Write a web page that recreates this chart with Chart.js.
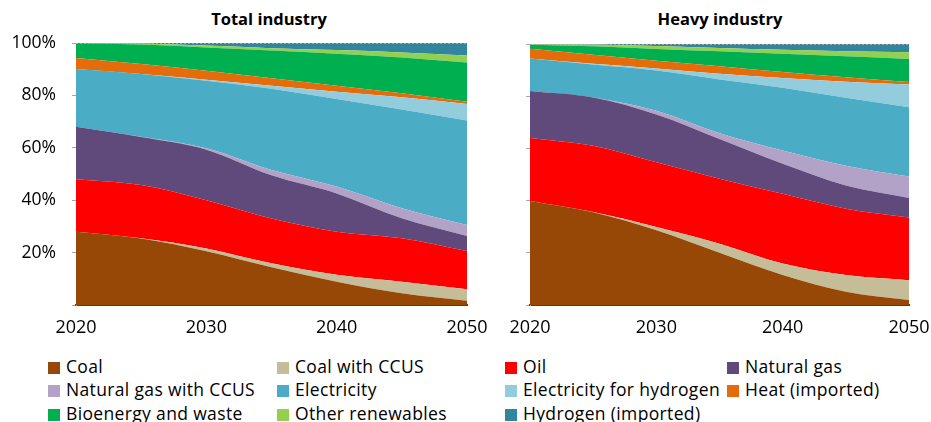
<!DOCTYPE html>
<html>
<head>
<meta charset="utf-8">
<script src="https://cdn.jsdelivr.net/npm/chart.js@4"></script>
<style>
  body { margin: 0; background: #fff; font-family: 'Open Sans', 'Liberation Sans', sans-serif; }
  #wrap { position: relative; width: 931px; height: 422px; overflow: hidden; }
  canvas { position: absolute; top: 0; }
  .title { position: absolute; top: 8px; font-weight: bold; font-size: 16.5px; line-height: 22px; color: #000; transform: translateX(-50%); white-space: nowrap; }
  .item { position: absolute; font-size: 17.5px; letter-spacing: 0.35px; color: #000; white-space: nowrap; line-height: 20px; }
  .item span { display: inline-block; width: 12px; height: 12px; margin-right: 6px; vertical-align: -1px; }
</style>
</head>
<body>
<div id="wrap">
  <div class="title" style="left:269px">Total industry</div>
  <div class="title" style="left:720px">Heavy industry</div>
  <canvas id="total" width="490" height="340" style="left:0"></canvas>
  <canvas id="heavy" width="451" height="340" style="left:480px"></canvas>
  <div id="legend"></div>
</div>
<script>
const years = ['2020', '2025', '2030', '2035', '2040', '2045', '2050'];
const seriesNames = ['Coal', 'Coal with CCUS', 'Oil', 'Natural gas', 'Natural gas with CCUS', 'Electricity',
  'Electricity for hydrogen', 'Heat (imported)', 'Bioenergy and waste', 'Other renewables', 'Hydrogen (imported)'];
const yTicks = [0, 20, 40, 60, 80, 100];

// shares in %, Total industry
const totalCoal     = [28.0, 25.4, 20.5, 14.4, 8.9, 4.5, 1.6];
const totalCoalCcus = [0.0, 0.1, 1.1, 1.5, 2.6, 4.4, 4.4];
const totalOil      = [20.0, 20.3, 18.4, 17.1, 16.5, 16.6, 14.6];
const totalGas      = [20.0, 18.3, 19.3, 16.5, 14.6, 7.6, 5.7];
const totalGasCcus  = [0.0, 0.1, 0.5, 2.0, 2.6, 3.8, 4.2];
const totalElec     = [22.1, 24.0, 25.8, 31.0, 33.4, 37.7, 39.9];
const totalElecH2   = [0.0, 0.0, 0.4, 1.2, 2.8, 4.7, 6.3];
const totalHeat     = [4.2, 3.8, 3.4, 2.8, 2.3, 1.5, 0.9];
const totalBio      = [5.7, 7.4, 8.9, 10.6, 12.2, 13.7, 15.0];
const totalOtherRen = [0.0, 0.4, 0.7, 0.9, 1.4, 1.9, 2.6];
const totalH2       = [0.0, 0.2, 1.0, 2.0, 2.7, 3.6, 4.8];

// shares in %, Heavy industry
const heavyCoal     = [39.8, 35.5, 28.6, 20.0, 11.5, 5.1, 1.9];
const heavyCoalCcus = [0.0, 0.1, 1.3, 3.5, 4.4, 6.4, 7.6];
const heavyOil      = [24.2, 25.4, 24.8, 24.9, 26.7, 25.4, 24.0];
const heavyGas      = [18.0, 18.5, 18.3, 15.2, 11.5, 8.9, 7.5];
const heavyGasCcus  = [0.0, 0.0, 1.4, 2.2, 5.1, 7.6, 8.2];
const heavyElec     = [12.4, 12.6, 15.4, 20.6, 24.0, 26.0, 26.6];
const heavyElecH2   = [0.0, 0.3, 0.8, 2.2, 3.8, 6.1, 8.7];
const heavyHeat     = [3.8, 3.5, 3.0, 2.9, 2.3, 1.8, 0.9];
const heavyBio      = [1.5, 3.2, 4.5, 5.7, 7.0, 8.0, 8.9];
const heavyOtherRen = [0.2, 0.7, 1.1, 1.3, 1.5, 1.9, 2.5];
const heavyH2       = [0.1, 0.2, 0.8, 1.5, 2.2, 2.8, 3.2];

const colors = ['#974706', '#C4BD97', '#FF0000', '#604A7B', '#B3A2C7', '#4BACC6',
  '#93CDDD', '#E46C0A', '#00B050', '#92D050', '#31859C'];

const fontFamily = "'Open Sans', 'Liberation Sans', sans-serif";

function buildChart(id, series, yWidth, showLabels, padTop, padRight) {
  const datasets = series.map((data, i) => ({
    label: seriesNames[i],
    data,
    backgroundColor: colors[i],
    borderColor: colors[i],
    borderWidth: 0,
    pointRadius: 0,
    fill: i === 0 ? 'origin' : '-1',
    cubicInterpolationMode: 'monotone',
  }));
  return new Chart(document.getElementById(id), {
    type: 'line',
    data: { labels: years, datasets },
    options: {
      responsive: false,
      animation: false,
      layout: { padding: { top: padTop, right: padRight, left: 0, bottom: 0 } },
      plugins: { legend: { display: false }, tooltip: { enabled: false } },
      scales: {
        x: {
          grid: { display: false, drawTicks: false },
          border: { display: true, color: '#404040', width: 2 },
          ticks: {
            autoSkip: false,
            maxRotation: 0,
            padding: 12,
            color: '#000',
            font: { family: fontFamily, size: 18 },
            callback: (v, i) => (Number(years[i]) % 10 === 0 ? years[i] : ''),
          },
          afterFit: (scale) => {
            scale.height = 35;
            scale.paddingLeft = 0;
            scale.paddingRight = 0;
          },
        },
        y: {
          stacked: true,
          min: 0,
          max: 100,
          afterBuildTicks: (scale) => { scale.ticks = yTicks.map((v) => ({ value: v })); },
          grid: {
            drawOnChartArea: false,
            tickColor: '#A6A6A6',
            tickLength: 4,
          },
          border: { display: true, color: '#A6A6A6', width: 1 },
          ticks: {
            color: '#000',
            padding: 16,
            font: { family: fontFamily, size: 17.5 },
            callback: (v) => (showLabels && v !== 0 ? v + '%' : ''),
          },
          afterFit: (scale) => {
            scale.width = yWidth;
            scale.paddingTop = 0;
            scale.paddingBottom = 0;
          },
        },
      },
    },
    plugins: [{
      id: 'dottedTop',
      afterDatasetsDraw(chart) {
        const { ctx, chartArea } = chart;
        ctx.save();
        ctx.strokeStyle = '#A6A6A6';
        ctx.lineWidth = 1;
        ctx.setLineDash([2, 2]);
        ctx.beginPath();
        ctx.moveTo(chartArea.left, chartArea.top + 0.5);
        ctx.lineTo(chartArea.right, chartArea.top + 0.5);
        ctx.stroke();
        ctx.restore();
      },
    }],
  });
}

buildChart('total', [totalCoal, totalCoalCcus, totalOil, totalGas, totalGasCcus, totalElec,
  totalElecH2, totalHeat, totalBio, totalOtherRen, totalH2], 76, true, 43, 23);
buildChart('heavy', [heavyCoal, heavyCoalCcus, heavyOil, heavyGas, heavyGasCcus, heavyElec,
  heavyElecH2, heavyHeat, heavyBio, heavyOtherRen, heavyH2], 50, false, 44, 22);

// legend: 4 columns, 3 rows
const legendX = [48, 277, 505, 727];
const legendY = [355.5, 379, 402.5];
const legend = document.getElementById('legend');
seriesNames.forEach((name, i) => {
  const d = document.createElement('div');
  d.className = 'item';
  d.style.left = legendX[i % 4] + 'px';
  d.style.top = legendY[Math.floor(i / 4)] + 'px';
  d.innerHTML = '<span style="background:' + colors[i] + '"></span>' + name;
  legend.appendChild(d);
});
</script>
</body>
</html>
